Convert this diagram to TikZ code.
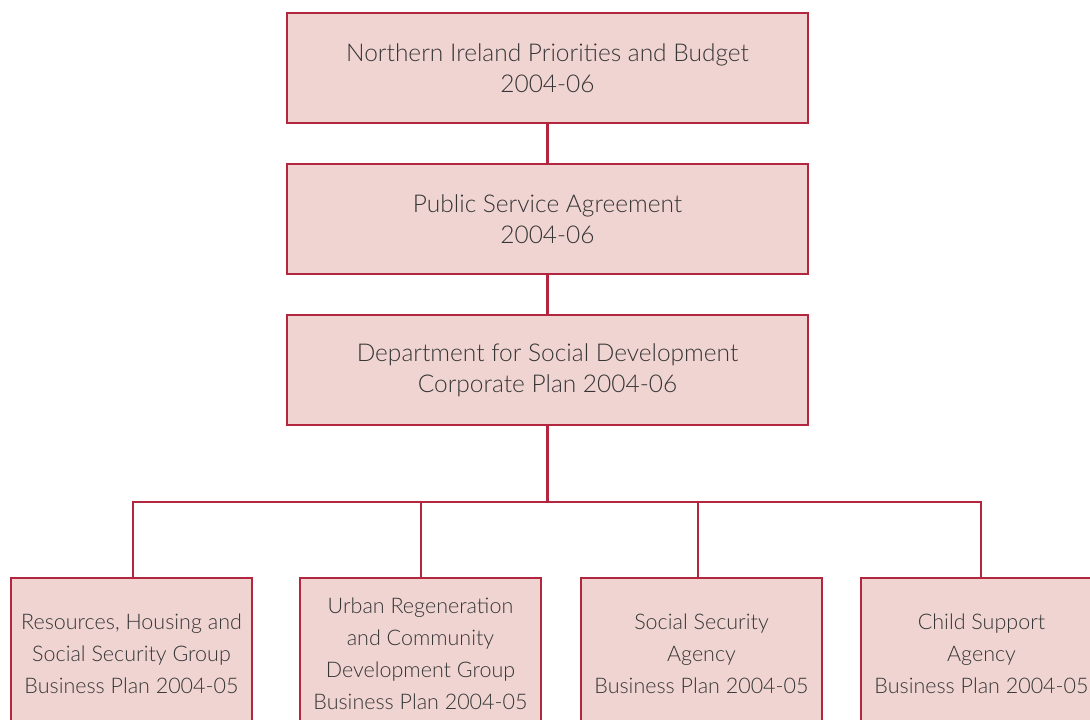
\documentclass[tikz,border=0pt]{standalone}
\usepackage{fontspec}
\setmainfont{Lato}[UprightFont=* Light]
\definecolor{framered}{HTML}{B3263F}
\definecolor{boxfill}{HTML}{F0D4D2}
\definecolor{txt}{HTML}{353535}
\begin{document}
\begin{tikzpicture}[x=1pt,y=-1pt,
  planbox/.style={draw=framered,fill=boxfill,line width=2.8pt,text=txt,
    align=center,inner sep=0pt,minimum width=521pt,minimum height=110pt,
    font=\fontsize{24.5}{31.5}\selectfont},
  unitbox/.style={draw=framered,fill=boxfill,line width=2.8pt,text=txt,
    align=center,inner sep=0pt,minimum width=241pt,minimum height=152pt,
    font=\fontsize{21.5}{32}\selectfont},
  link/.style={draw=framered,line width=2.8pt}]
\useasboundingbox (0,0) rectangle (1090,720);

% top chain
\node[planbox] (nib) at (547.5,68) {Northern Ireland Priorities and Budget\\2004-06};
\node[planbox] (psa) at (547.5,219) {Public Service Agreement\\2004-06};
\node[planbox] (dsd) at (547.5,370) {Department for Social Development\\Corporate Plan 2004-06};

% business plans
\node[unitbox] (rhs) at (131.5,654) {Resources, Housing and\\Social Security Group\\Business Plan 2004-05};
\node[unitbox] (urc) at (420.5,654) {Urban Regeneration\\and Community\\Development Group\\Business Plan 2004-05};
\node[unitbox] (ssa) at (701.5,654) {Social Security\\Agency\\Business Plan 2004-05};
\node[unitbox] (csa) at (981.5,654) {Child Support\\Agency\\Business Plan 2004-05};

% connectors
\coordinate (bus) at (547.5,502);
\draw[link] (nib) -- (psa);
\draw[link] (psa) -- (dsd);
\draw[link] (dsd.south) -- (bus);
\draw[link] (rhs.north -| 133,0) |- (bus) -| (csa.north -| 981,0);
\draw[link] (urc.north -| 421,0) -- (421,502);
\draw[link] (ssa.north -| 698,0) -- (698,502);
\end{tikzpicture}
\end{document}
